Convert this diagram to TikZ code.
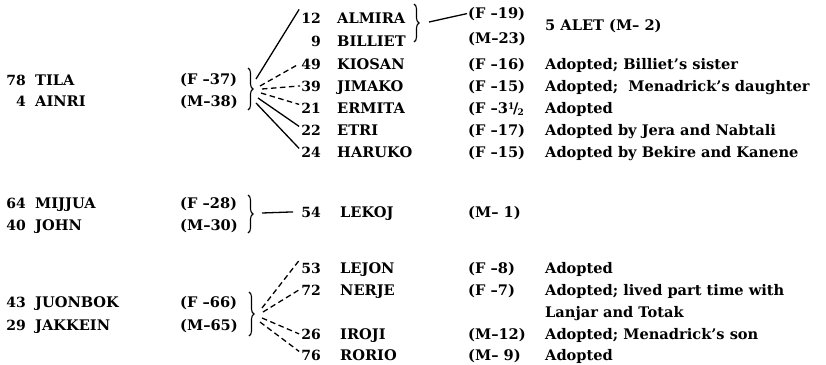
\documentclass[tikz,border=0pt]{standalone}
\usepackage{fontspec}
\setmainfont{DejaVu Serif}
\usetikzlibrary{decorations.pathreplacing}
\newcommand{\half}{3\raisebox{.5ex}{\fontsize{9}{10}\selectfont 1}\kern-.08em/\kern-.05em\raisebox{-.35ex}{\fontsize{9}{10}\selectfont 2}}
\begin{document}
\begin{tikzpicture}[x=1pt,y=-1pt,
  txt/.style={inner sep=0pt, anchor=base west, font=\fontsize{14.6}{16}\selectfont\bfseries},
  num/.style={inner sep=0pt, anchor=base east, font=\fontsize{14}{16}\selectfont\bfseries},
  link/.style={line width=1.3pt},
  dlink/.style={line width=1.3pt, dash pattern=on 5.5pt off 3.5pt},
  bracedec/.style={line width=1.1pt, decorate, decoration={brace, amplitude=5pt}}]
\useasboundingbox (0,0) rectangle (826,364);

% ---------- group 1 ----------
\node[num] (n78) at (26,85) {78};
\node[txt] (tila) at (35,85) {TILA};
\node[num] (n4) at (26,106) {4};
\node[txt] (ainri) at (35,106) {AINRI};
\node[txt] (a37) at (180,84) {(F –37)};
\node[txt] (a38) at (180,106) {(M–38)};
\draw[bracedec] (248,68) -- (248,110);

\node[num] (c12) at (321,23) {12};
\node[txt] (almira) at (337,23) {ALMIRA};
\node[num] (c9) at (321,46) {9};
\node[txt] (billiet) at (337,46) {BILLIET};
\node[num] (c49) at (321,69) {49};
\node[txt] (kiosan) at (337,69) {KIOSAN};
\node[num] (c39) at (321,91) {39};
\node[txt] (jimako) at (337,91) {JIMAKO};
\node[num] (c21) at (321,113) {21};
\node[txt] (ermita) at (337,113) {ERMITA};
\node[num] (c22) at (321,135) {22};
\node[txt] (etri) at (337,135) {ETRI};
\node[num] (c24) at (321,157) {24};
\node[txt] (haruko) at (337,157) {HARUKO};

\node[txt] (f19) at (468,18) {(F –19)};
\node[txt] (m23) at (468,43) {(M–23)};
\node[txt] (alet) at (545,30) {5 ALET (M– 2)};
\node[txt] (f16) at (468,69) {(F –16)};
\node[txt] (r49) at (545,69) {Adopted; Billiet's sister};
\node[txt] (f15a) at (468,91) {(F –15)};
\node[txt] (r39) at (545,91) {Adopted;\ \ Menadrick's daughter};
\node[txt] (f3) at (468,113) {(F –\half};
\node[txt] (r21) at (545,113) {Adopted};
\node[txt] (f17) at (468,135) {(F –17)};
\node[txt] (r22) at (545,135) {Adopted by Jera and Nabtali};
\node[txt] (f15b) at (468,157) {(F –15)};
\node[txt] (r24) at (545,157) {Adopted by Bekire and Kanene};

\draw[bracedec] (414,4) -- (414,42);
\coordinate (tB) at (429,22);
\draw[link] (tB) -- ([xshift=-1pt]f19.west);

\coordinate (s12) at (256,79);
\coordinate (s49) at (260,86);
\coordinate (s39) at (262,89);
\coordinate (s21) at (261,93);
\coordinate (s22) at (258,98);
\coordinate (s24) at (256,103);
\draw[link] (s12) -- ([xshift=-2pt,yshift=3pt]c12.north west);
\draw[dlink] (s49) -- ([xshift=-2pt]c49.west);
\draw[dlink] (s39) -- ([xshift=-1pt]c39.west);
\draw[dlink] (s21) -- ([xshift=-2pt,yshift=-2pt]c21.north west);
\draw[link] (s22) -- ([xshift=-2pt,yshift=-2pt]c22.north west);
\draw[link] (s24) -- ([xshift=-2pt,yshift=-2pt]c24.north west);

% ---------- group 2 ----------
\node[num] (n64) at (26,208) {64};
\node[txt] (mijjua) at (35,208) {MIJJUA};
\node[num] (n40) at (26,230) {40};
\node[txt] (john) at (35,230) {JOHN};
\node[txt] (a28) at (180,208) {(F –28)};
\node[txt] (a30) at (180,230) {(M–30)};
\draw[bracedec] (248,195) -- (248,233);
\coordinate (tC) at (262,213);
\node[num] (c54) at (321,217) {54};
\node[txt] (lekoj) at (340,217) {LEKOJ};
\node[txt] (m1) at (468,217) {(M– 1)};
\draw[link] (tC) -- ([xshift=-8pt]c54.west);

% ---------- group 3 ----------
\node[num] (n43) at (26,307) {43};
\node[txt] (juonbok) at (35,307) {JUONBOK};
\node[num] (n29) at (26,330) {29};
\node[txt] (jakkein) at (35,330) {JAKKEIN};
\node[txt] (a66) at (180,307) {(F –66)};
\node[txt] (a65) at (180,330) {(M–65)};
\draw[bracedec] (249,292) -- (249,336);

\node[num] (c53) at (321,273) {53};
\node[txt] (lejon) at (340,273) {LEJON};
\node[num] (c72) at (321,295) {72};
\node[txt] (nerje) at (340,295) {NERJE};
\node[num] (c26) at (321,339) {26};
\node[txt] (iroji) at (340,339) {IROJI};
\node[num] (c76) at (321,360) {76};
\node[txt] (rorio) at (340,360) {RORIO};

\node[txt] (f8) at (468,273) {(F –8)};
\node[txt] (r53) at (545,273) {Adopted};
\node[txt] (f7) at (468,295) {(F –7)};
\node[txt] (r72) at (545,295) {Adopted; lived part time with};
\node[txt] (r72b) at (545,317) {Lanjar and Totak};
\node[txt] (m12) at (468,339) {(M–12)};
\node[txt] (r26) at (545,339) {Adopted; Menadrick's son};
\node[txt] (m9) at (468,360) {(M– 9)};
\node[txt] (r76) at (545,360) {Adopted};

\coordinate (s53) at (262,308);
\coordinate (s72) at (263,312);
\coordinate (s26) at (262,318);
\coordinate (s76) at (260,322);
\draw[dlink] (s53) -- ([xshift=-2pt,yshift=2pt]c53.north west);
\draw[dlink] (s72) -- ([xshift=-2pt]c72.west);
\draw[dlink] (s26) -- ([xshift=-2pt]c26.west);
\draw[dlink] (s76) -- ([xshift=-2pt,yshift=-2pt]c76.north west);
\end{tikzpicture}
\end{document}
